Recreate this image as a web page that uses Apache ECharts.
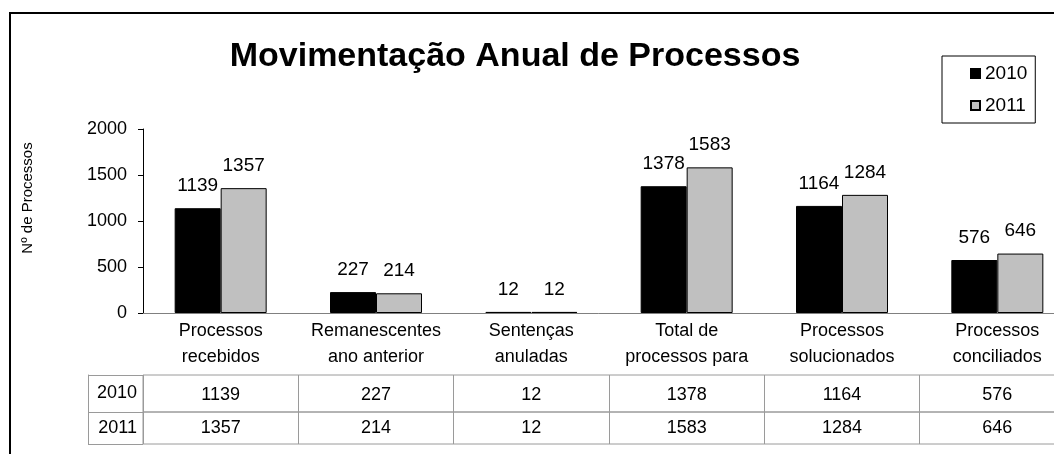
<!DOCTYPE html>
<html>
<head>
<meta charset="utf-8">
<script src="https://cdn.jsdelivr.net/npm/echarts@6/dist/echarts.min.js"></script>
<style>html,body{margin:0;padding:0;background:#fff;overflow:hidden;}</style>
</head>
<body>
<div id="main" style="width:1054px;height:454px;"></div>
<script type="text/javascript">
    // dados do gráfico
    var categorias = ['Processos\nrecebidos', 'Remanescentes\nano anterior', 'Sentenças\nanuladas',
                      'Total de\nprocessos para', 'Processos\nsolucionados', 'Processos\nconciliados'];
    var anos = ['2010', '2011'];
    var valores2010 = [1139, 227, 12, 1378, 1164, 576];
    var valores2011 = [1357, 214, 12, 1583, 1284, 646];
    var yMin = 0, yMax = 2000, yPasso = 500;

    var FONTE = 'Liberation Sans, Arial, sans-serif';
    var LINHA = '#9a9a9a';

    var myChart = echarts.init(document.getElementById('main'));

    // linha da tabela (uma grade por ano)
    function eixoLinha(grade, valores) {
        return {
            gridIndex: grade, type: 'category', data: valores.map(String),
            axisLine: {show: false}, axisTick: {show: false},
            splitLine: {show: true, interval: 0, lineStyle: {color: LINHA}},
            axisLabel: {interval: 0, inside: true, verticalAlign: 'middle', margin: grade === 1 ? 17 : 16,
                        fontSize: 18, color: '#000'}
        };
    }
    function rotuloLinha(grade, ano) {
        return {
            gridIndex: grade, type: 'category', data: [ano],
            axisLine: {show: false},
            axisTick: {show: true, length: 55, lineStyle: {color: LINHA}},
            axisLabel: {margin: 6, fontSize: 18, color: '#000'}
        };
    }
    function bordaLinha(grade) {
        return {
            gridIndex: grade, type: 'value', position: 'left', offset: 55,
            axisLine: {show: true, lineStyle: {color: LINHA}},
            axisTick: {show: false}, axisLabel: {show: false}, splitLine: {show: false}
        };
    }

    var option = {
        backgroundColor: '#fff',
        textStyle: {fontFamily: FONTE},
        title: {
            text: 'Movimentação Anual de Processos',
            left: 515, top: 40, textAlign: 'center', padding: 0,
            textStyle: {fontSize: 34, fontWeight: 'bold', color: '#000', fontFamily: FONTE}
        },
        legend: {
            data: anos, orient: 'vertical', left: 942, top: 56,
            icon: 'rect', itemWidth: 9, itemHeight: 9, itemGap: 13,
            padding: [8, 8, 8, 28], borderColor: '#000', borderWidth: 1,
            textStyle: {fontSize: 19, color: '#000'}
        },
        graphic: [{
            type: 'rect', silent: true,
            shape: {x: 10, y: 13, width: 1100, height: 480},
            style: {fill: 'none', stroke: '#000', lineWidth: 2}
        }],
        grid: [
            {left: 143, top: 129, right: -21, height: 184, outerBoundsMode: 'none'},
            {left: 143, top: 375, right: -21, height: 37, show: true, borderColor: LINHA, borderWidth: 1, outerBoundsMode: 'none'},
            {left: 143, top: 412, right: -21, height: 32, show: true, borderColor: LINHA, borderWidth: 1, outerBoundsMode: 'none'}
        ],
        xAxis: [
            {
                gridIndex: 0, type: 'category', data: categorias,
                axisLine: {lineStyle: {color: '#808080'}},
                axisTick: {length: 62, lineStyle: {color: LINHA}},
                axisLabel: {interval: 0, margin: 5, fontSize: 18, lineHeight: 26, color: '#000'}
            },
            eixoLinha(1, valores2010),
            eixoLinha(2, valores2011)
        ],
        yAxis: [
            {
                gridIndex: 0, type: 'value', min: yMin, max: yMax, interval: yPasso,
                name: 'Nº de Processos', nameLocation: 'middle', nameGap: 108, nameRotate: 90,
                nameMoveOverlap: false,
                nameTextStyle: {fontSize: 15, color: '#000', padding: [0, 0, 0, 46]},
                axisLine: {show: true, lineStyle: {color: '#000'}},
                axisTick: {show: true, length: 5, lineStyle: {color: '#000'}},
                splitLine: {show: false},
                axisLabel: {margin: 16, fontSize: 18, color: '#000', formatter: function (v) { return String(v); }}
            },
            rotuloLinha(1, anos[0]),
            bordaLinha(1),
            rotuloLinha(2, anos[1]),
            bordaLinha(2)
        ],
        series: [
            {
                name: anos[0], type: 'bar', xAxisIndex: 0, yAxisIndex: 0,
                data: valores2010, barWidth: 46, barGap: '0%',
                itemStyle: {color: '#000', borderColor: '#000', borderWidth: 1},
                label: {show: true, position: 'top', distance: 13, fontSize: 19, color: '#000'}
            },
            {
                name: anos[1], type: 'bar', xAxisIndex: 0, yAxisIndex: 0,
                data: valores2011, barWidth: 46, barGap: '0%',
                itemStyle: {color: '#c0c0c0', borderColor: '#000', borderWidth: 1},
                label: {show: true, position: 'top', distance: 13, fontSize: 19, color: '#000'}
            }
        ]
    };
    myChart.setOption(option);
</script>
</body>
</html>
